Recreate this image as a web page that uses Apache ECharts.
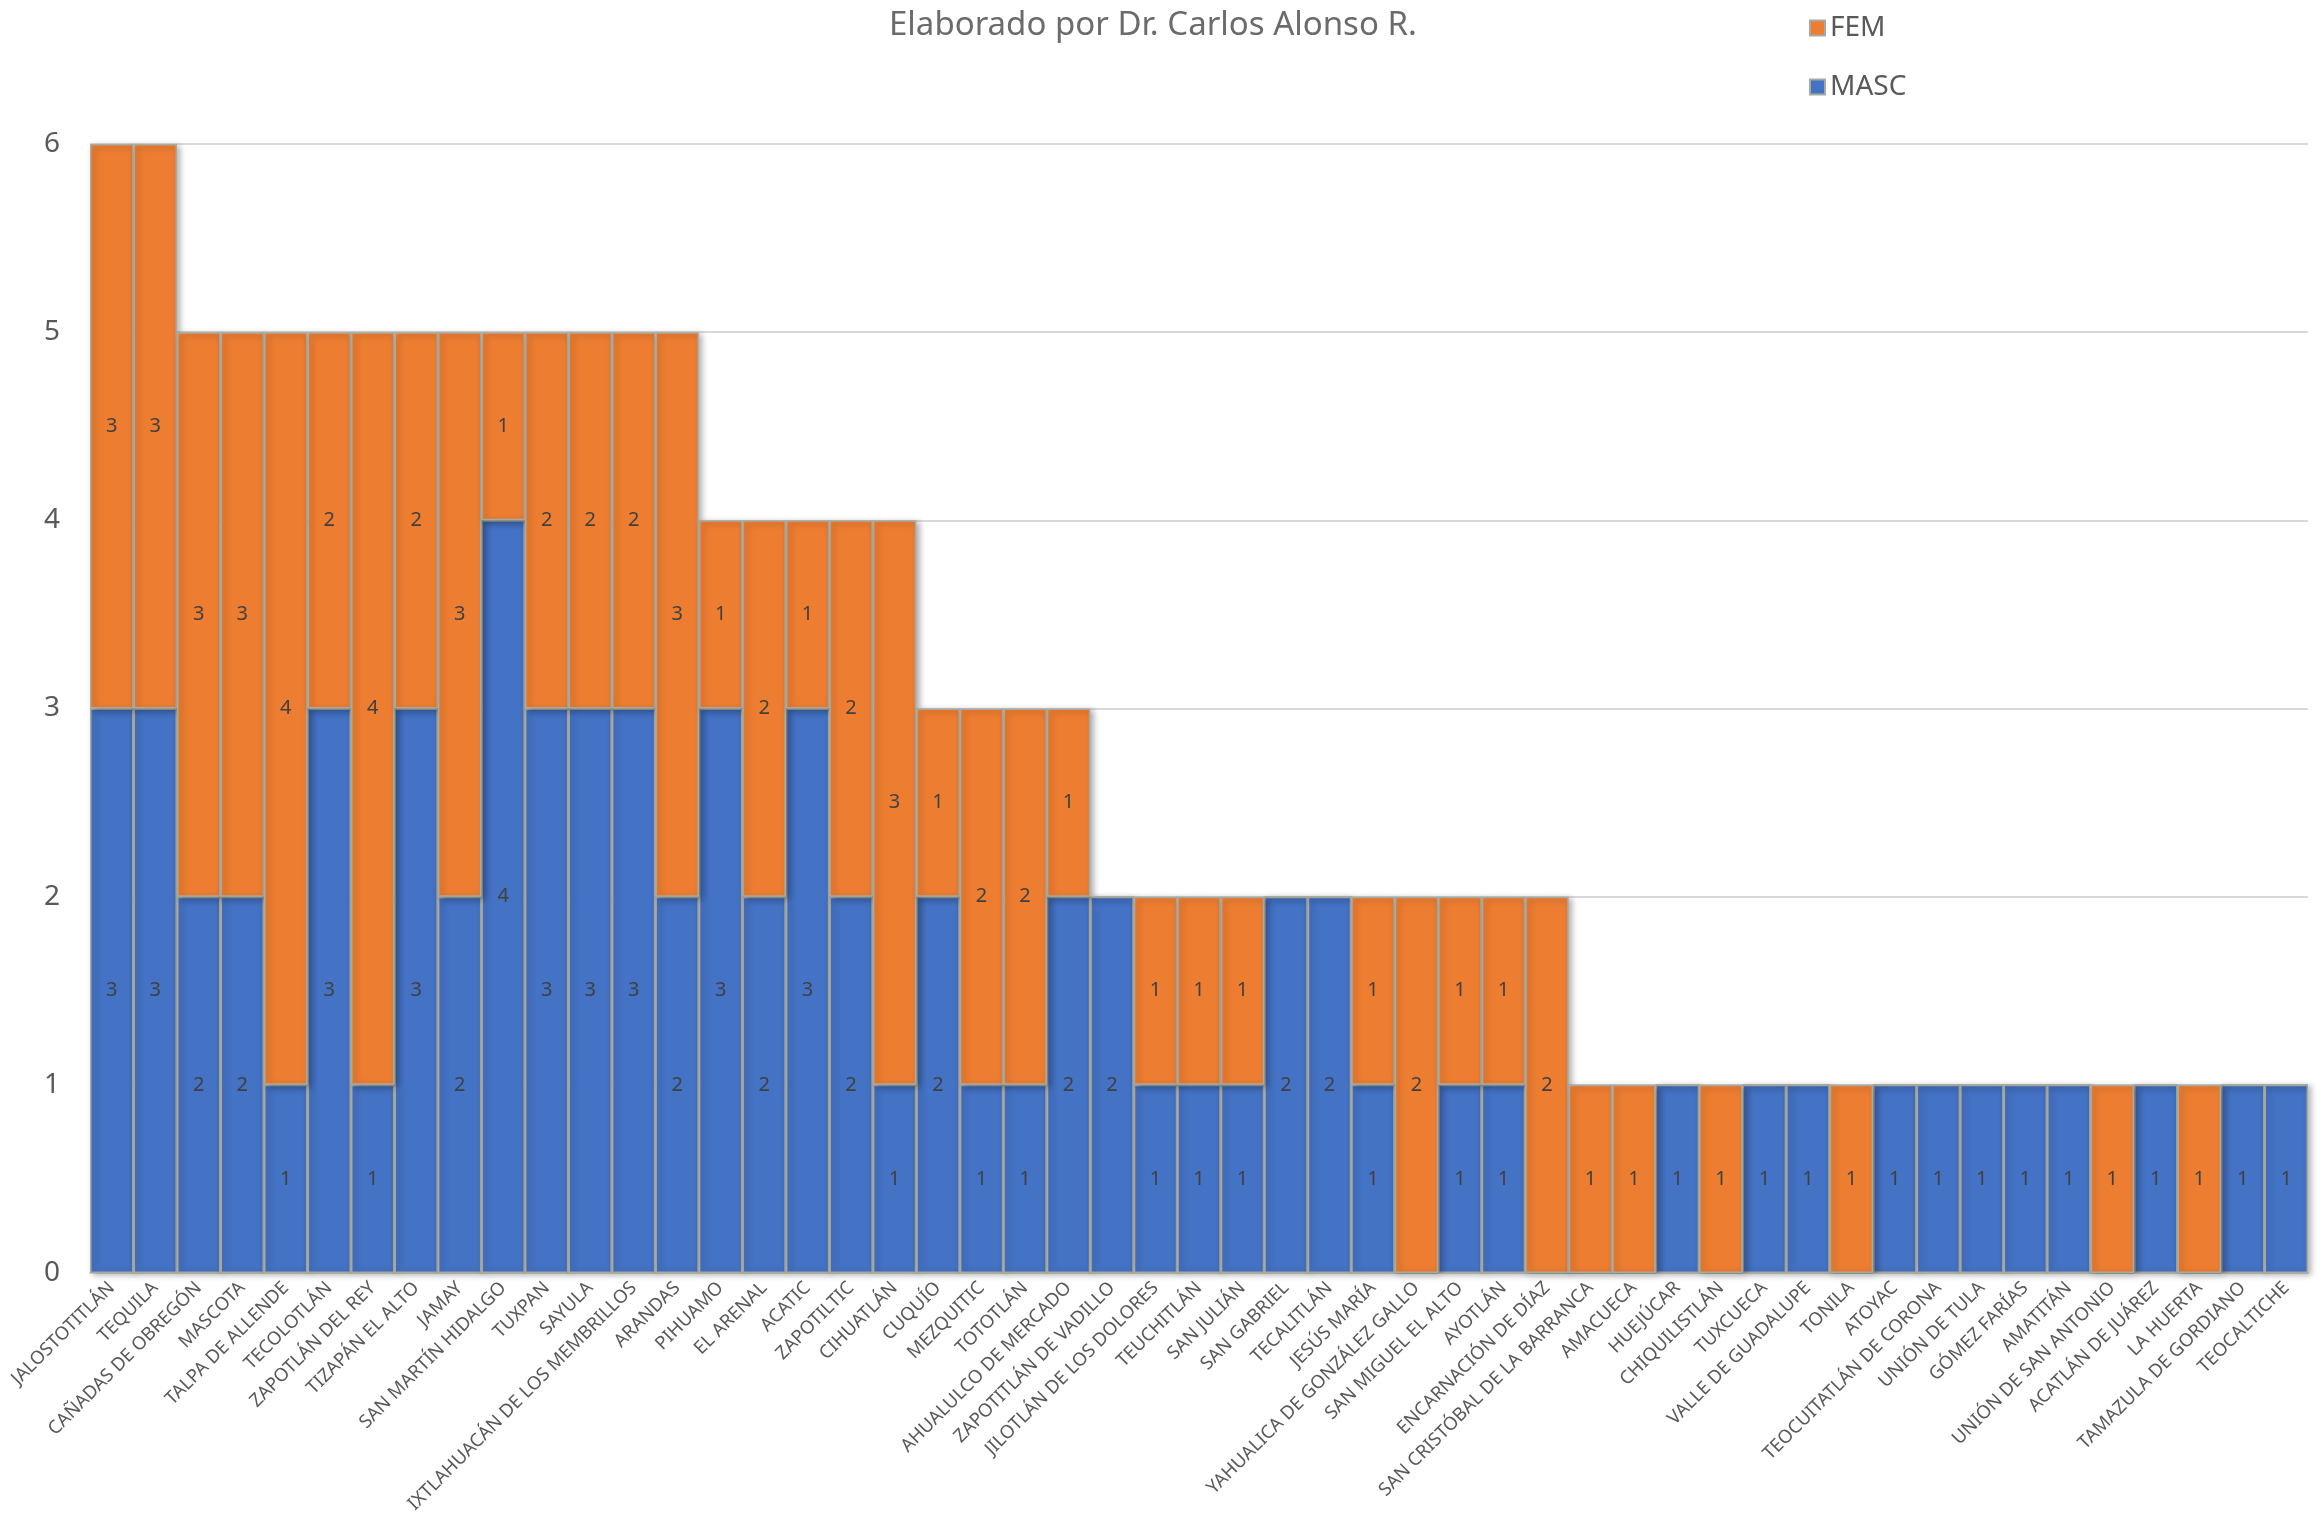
<!DOCTYPE html>
<html>
<head>
<meta charset="utf-8">
<script src="https://cdn.jsdelivr.net/npm/echarts@6/dist/echarts.min.js"></script>
<style>
  html, body { margin: 0; padding: 0; background: #fff; }
  #chart { width: 2321px; height: 1520px; }
</style>
</head>
<body>
<div id="chart"></div>
<script>
// municipios, ordenados como en la gráfica
const municipios = [
  'JALOSTOTITLÁN', 'TEQUILA', 'CAÑADAS DE OBREGÓN', 'MASCOTA', 'TALPA DE ALLENDE',
  'TECOLOTLÁN', 'ZAPOTLÁN DEL REY', 'TIZAPÁN EL ALTO', 'JAMAY', 'SAN MARTÍN HIDALGO',
  'TUXPAN', 'SAYULA', 'IXTLAHUACÁN DE LOS MEMBRILLOS', 'ARANDAS', 'PIHUAMO',
  'EL ARENAL', 'ACATIC', 'ZAPOTILTIC', 'CIHUATLÁN', 'CUQUÍO',
  'MEZQUITIC', 'TOTOTLÁN', 'AHUALULCO DE MERCADO', 'ZAPOTITLÁN DE VADILLO', 'JILOTLÁN DE LOS DOLORES',
  'TEUCHITLÁN', 'SAN JULIÁN', 'SAN GABRIEL', 'TECALITLÁN', 'JESÚS MARÍA',
  'YAHUALICA DE GONZÁLEZ GALLO', 'SAN MIGUEL EL ALTO', 'AYOTLÁN', 'ENCARNACIÓN DE DÍAZ', 'SAN CRISTÓBAL DE LA BARRANCA',
  'AMACUECA', 'HUEJÚCAR', 'CHIQUILISTLÁN', 'TUXCUECA', 'VALLE DE GUADALUPE',
  'TONILA', 'ATOYAC', 'TEOCUITATLÁN DE CORONA', 'UNIÓN DE TULA', 'GÓMEZ FARÍAS',
  'AMATITÁN', 'UNIÓN DE SAN ANTONIO', 'ACATLÁN DE JUÁREZ', 'LA HUERTA', 'TAMAZULA DE GORDIANO',
  'TEOCALTICHE'
]

const masc = [
  3, 3, 2, 2, 1, 3, 1, 3, 2, 4,
  3, 3, 3, 2, 3, 2, 3, 2, 1, 2,
  1, 1, 2, 2, 1, 1, 1, 2, 2, 1,
  0, 1, 1, 0, 0, 0, 1, 0, 1, 1,
  0, 1, 1, 1, 1, 1, 0, 1, 0, 1,
  1
]

const fem = [
  3, 3, 3, 3, 4, 2, 4, 2, 3, 1,
  2, 2, 2, 3, 1, 2, 1, 2, 3, 1,
  2, 2, 1, 0, 1, 1, 1, 0, 0, 1,
  2, 1, 1, 2, 1, 1, 0, 1, 0, 0,
  1, 0, 0, 0, 0, 0, 1, 0, 1, 0,
  0
]

const yTicks = [0, 1, 2, 3, 4, 5, 6]

const chart = echarts.init(document.getElementById('chart'))

// etiqueta de datos, sin mostrar los ceros
let etiqueta = {
  show: true,
  position: 'inside',
  color: '#404040',
  fontSize: 20,
  fontFamily: 'Noto Sans',
  formatter: p => (p.value ? p.value : '')
}

let estiloBarra = function (color) {
  return {
    color: color,
    borderColor: '#a8aaa0',
    borderWidth: 1.5,
    shadowColor: 'rgba(0,0,0,0.3)',
    shadowBlur: 6,
    shadowOffsetX: 3,
    shadowOffsetY: 2
  }
}

let option = {
  backgroundColor: '#ffffff',
  animation: false,
  title: {
    text: 'Elaborado por Dr. Carlos Alonso R.',
    left: 884,
    top: 4,
    textStyle: {
      color: '#6b6b6b',
      fontSize: 33,
      fontWeight: 'normal',
      fontFamily: 'Noto Sans'
    }
  },
  legend: {
    data: ['FEM', 'MASC'],
    orient: 'vertical',
    left: 1804,
    top: 9,
    icon: 'rect',
    itemWidth: 15,
    itemHeight: 15,
    itemGap: 31,
    textStyle: {
      color: '#595959',
      fontSize: 28,
      fontFamily: 'Noto Sans'
    }
  },
  grid: {
    left: 90,
    right: 13,
    top: 144,
    bottom: 247,
    containLabel: false
  },
  xAxis: {
    type: 'category',
    data: municipios,
    axisTick: { show: false },
    axisLine: { lineStyle: { color: '#d9d9d9', width: 2 } },
    axisLabel: {
      interval: 0,
      rotate: 45,
      margin: 12,
      color: '#595959',
      fontSize: 18.5,
      fontFamily: 'Noto Sans'
    }
  },
  yAxis: {
    type: 'value',
    min: yTicks[0],
    max: yTicks[yTicks.length - 1],
    interval: 1,
    axisLine: { show: false },
    axisTick: { show: false },
    axisLabel: {
      margin: 30,
      color: '#595959',
      fontSize: 28,
      fontFamily: 'Noto Sans'
    },
    splitLine: { lineStyle: { color: '#d9d9d9', width: 2 } }
  },
  series: [
    {
      name: 'MASC',
      type: 'bar',
      stack: 'total',
      barCategoryGap: '0%',
      data: masc,
      label: etiqueta,
      itemStyle: estiloBarra('#4472c4')
    },
    {
      name: 'FEM',
      type: 'bar',
      stack: 'total',
      barCategoryGap: '0%',
      data: fem,
      label: etiqueta,
      itemStyle: estiloBarra('#ed7d31')
    }
  ]
}

chart.setOption(option)
</script>
</body>
</html>
